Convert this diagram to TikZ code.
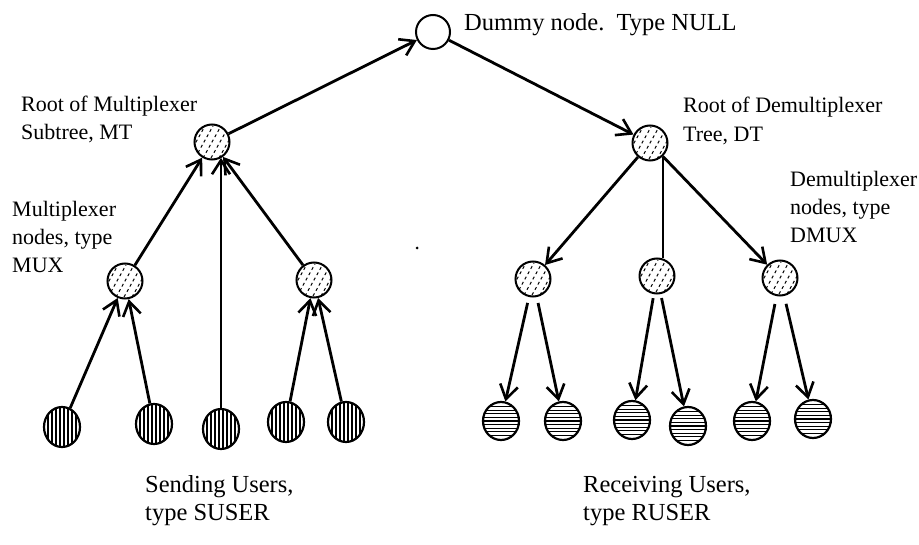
\documentclass[tikz,border=0pt]{standalone}
\usepackage{fontspec}
\setmainfont{Liberation Serif}
\usetikzlibrary{arrows.meta,shapes.geometric}

\tikzset{
  x=1pt, y=-1pt,
  lbl/.style={anchor=base west, inner sep=0pt, font=\fontsize{22}{28}\selectfont},
  biglbl/.style={anchor=base west, inner sep=0pt, font=\fontsize{24.5}{29}\selectfont},
  link/.style={line width=2.8pt, -{Straight Barb[length=14pt,width=18pt,line width=2.6pt]}},
  plain/.style={line width=2.8pt},
  % dashed hatching of multiplexer / demultiplexer nodes
  inner/.style={circle, draw, line width=2pt, minimum size=35pt, inner sep=0pt,
    path picture={
      \foreach \k in {-24,-16,...,24}
        \draw[line width=1pt, dash pattern=on 3pt off 3pt]
          ([shift={({\k*1pt-9pt},-16pt)}]path picture bounding box.center) -- ++(18pt,32pt);
    }},
  % vertically striped sending users
  suser/.style={ellipse, draw, line width=2.2pt, minimum width=36pt, minimum height=40pt, inner sep=0pt,
    path picture={
      \foreach \k in {-14,-10,...,14}
        \draw[line width=1.1pt]
          ([xshift=\k pt]path picture bounding box.north) -- ([xshift=\k pt]path picture bounding box.south);
    }},
  % horizontally striped receiving users
  ruser/.style={ellipse, draw, line width=2.2pt, minimum width=36pt, minimum height=38pt, inner sep=0pt,
    path picture={
      \foreach \k in {-14.4,-10.8,...,14.4}
        \draw[line width=1.1pt]
          ([yshift=\k pt]path picture bounding box.west) -- ([yshift=\k pt]path picture bounding box.east);
    }},
  dummy/.style={circle, draw, line width=2pt, minimum size=34pt, inner sep=0pt, fill=white},
}

\begin{document}
\begin{tikzpicture}
\useasboundingbox (0,0) rectangle (919,545);

% tree nodes
\node[dummy] (null) at (433,32) {};
\node[inner] (mt)  at (212,142) {};
\node[inner] (dt)  at (650,143) {};
\node[inner] (muxl) at (125,281) {};
\node[inner] (muxr) at (314,280) {};
\node[inner] (dm1) at (533,279) {};
\node[inner] (dm2) at (657,276) {};
\node[inner] (dm3) at (780,278) {};

% sending users
\node[suser] (s1) at (62,427) {};
\node[suser] (s2) at (154,424) {};
\node[suser] (s3) at (221,429) {};
\node[suser] (s4) at (286,422) {};
\node[suser] (s5) at (346,422) {};

% receiving users
\node[ruser] (r1) at (501,421) {};
\node[ruser] (r2) at (563,421) {};
\node[ruser] (r3) at (632,420) {};
\node[ruser] (r4) at (688,426) {};
\node[ruser] (r5) at (752,421) {};
\node[ruser] (r6) at (813,419) {};

% multiplexer side
\draw[link] (s1) -- (muxl);
\draw[link] (s2) -- (muxl);
\draw[link] (s4) -- (muxr);
\draw[link] (s5) -- (muxr);
\draw[link, line width=2pt] (s3.north) -- (s3.north |- mt.-59);
\draw[link] (muxl) -- (mt);
\draw[link] (muxr) -- (mt);
\draw[link] (mt) -- (null);

% demultiplexer side
\draw[link] (null) -- (dt);
\draw[link] (dt) -- (dm1);
\draw[plain, line width=2pt] (dt.-47) -- (dt.-47 |- dm2.75);
\draw[link] (dt) -- (dm3);
\draw[link, shorten <=6pt] (dm1) -- (r1);
\draw[link, shorten <=6pt] (dm1) -- (r2);
\draw[link, shorten <=4pt] (dm2) -- (r3);
\draw[link, shorten <=4pt] (dm2) -- (r4);
\draw[link, shorten <=8pt] (dm3) -- (r5);
\draw[link, shorten <=8pt] (dm3) -- (r6);

% labels
\node[biglbl] (tnull) at (464,31) {Dummy node.\ \ Type NULL};
\node[lbl] (tmt1) at (21,112) {Root of Multiplexer};
\node[lbl] (tmt2) at (21,140) {Subtree, MT};
\node[lbl] (tdt1) at (683,113) {Root of Demultiplexer};
\node[lbl] (tdt2) at (683,142) {Tree, DT};
\node[lbl] (tmx1) at (12,217) {Multiplexer};
\node[lbl] (tmx2) at (12,245) {nodes, type};
\node[lbl] (tmx3) at (12,273) {MUX};
\node[lbl] (tdm1) at (790,187) {Demultiplexer};
\node[lbl] (tdm2) at (790,215) {nodes, type};
\node[lbl] (tdm3) at (790,243) {DMUX};
\node[biglbl] (tsu1) at (145,492) {Sending Users,};
\node[biglbl] (tsu2) at (145,520) {type SUSER};
\node[biglbl] (tru1) at (583,492) {Receiving Users,};
\node[biglbl] (tru2) at (583,520) {type RUSER};

% small speck
\fill (417,248) circle (1.5pt);
\end{tikzpicture}
\end{document}
